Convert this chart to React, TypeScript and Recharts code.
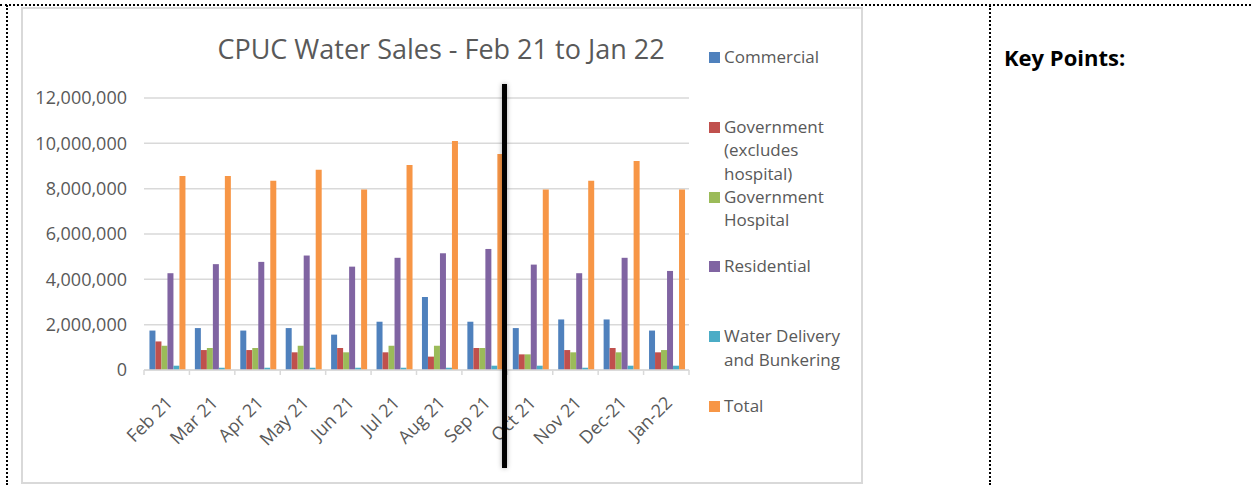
import React from "react";
import { Bar, BarChart, CartesianGrid, XAxis, YAxis } from "recharts";

const months = [
  "Feb 21", "Mar 21", "Apr 21", "May 21", "Jun 21", "Jul 21",
  "Aug 21", "Sep 21", "Oct 21", "Nov 21", "Dec-21", "Jan-22",
];

const commercial = [1740000, 1850000, 1740000, 1850000, 1560000, 2130000, 3220000, 2130000, 1850000, 2230000, 2230000, 1740000];
const government = [1260000, 880000, 880000, 780000, 970000, 780000, 590000, 970000, 690000, 880000, 970000, 780000];
const hospital = [1070000, 970000, 970000, 1070000, 780000, 1070000, 1070000, 970000, 690000, 780000, 780000, 880000];
const residential = [4270000, 4670000, 4770000, 5050000, 4560000, 4950000, 5150000, 5340000, 4650000, 4270000, 4950000, 4370000];
const waterDelivery = [190000, 100000, 100000, 100000, 100000, 100000, 100000, 190000, 190000, 100000, 190000, 190000];
const total = [8560000, 8560000, 8350000, 8840000, 7960000, 9040000, 10100000, 9530000, 7960000, 8350000, 9220000, 7960000];

const yTicks = [0, 2000000, 4000000, 6000000, 8000000, 10000000, 12000000];

const series = [
  { key: "commercial", color: "#4f81bd", lines: ["Commercial"] },
  { key: "government", color: "#c0504d", lines: ["Government", "(excludes", "hospital)"] },
  { key: "hospital", color: "#9bbb59", lines: ["Government", "Hospital"] },
  { key: "residential", color: "#8064a2", lines: ["Residential"] },
  { key: "waterDelivery", color: "#4bacc6", lines: ["Water Delivery", "and Bunkering"] },
  { key: "total", color: "#f79646", lines: ["Total"] },
];

const rows = months.map((month, i) => ({
  month,
  commercial: commercial[i],
  government: government[i],
  hospital: hospital[i],
  residential: residential[i],
  waterDelivery: waterDelivery[i],
  total: total[i],
}));

const FONT = "'Open Sans', 'Noto Sans', sans-serif";
const GREY_TEXT = "#595959";
const GRID = "#d9d9d9";

function MonthTick(props: any) {
  const { x, y, payload, index } = props;
  const half = payload.offset ?? 0;
  const ax = x + 7;
  const ay = y + 34;
  return (
    <g>
      <line x1={x - half} x2={x - half} y1={y} y2={y + 5} stroke={GRID} strokeWidth={1.5} />
      {index === months.length - 1 && (
        <line x1={x + half} x2={x + half} y1={y} y2={y + 5} stroke={GRID} strokeWidth={1.5} />
      )}
      <text
        x={ax}
        y={ay}
        textAnchor="end"
        transform={`rotate(-45 ${ax} ${ay})`}
        fontSize={18}
        fontFamily={FONT}
        fill={GREY_TEXT}
      >
        {payload.value}
      </text>
    </g>
  );
}

export default function App() {
  return (
    <div
      style={{
        position: "absolute",
        left: 0,
        top: 0,
        width: 1251,
        height: 485,
        background: "#fff",
        fontFamily: FONT,
        overflow: "hidden",
      }}
    >
      {/* table borders */}
      <div style={{ position: "absolute", left: 0, top: 4, width: 1251, borderTop: "2px dotted #000" }} />
      <div style={{ position: "absolute", left: 6, top: 5, height: 480, borderLeft: "2px dotted #000" }} />
      <div style={{ position: "absolute", left: 989, top: 5, height: 480, borderLeft: "2px dotted #000" }} />

      {/* chart frame */}
      <div
        style={{
          position: "absolute",
          left: 21,
          top: 7,
          width: 838,
          height: 473,
          border: `2px solid ${GRID}`,
        }}
      />

      <div
        style={{
          position: "absolute",
          left: 0,
          top: 32,
          width: 882,
          textAlign: "center",
          fontSize: 27,
          color: GREY_TEXT,
          lineHeight: "34px",
        }}
      >
        CPUC Water Sales - Feb 21 to Jan 22
      </div>

      <div style={{ position: "absolute", left: 0, top: 0 }}>
        <BarChart
          width={860}
          height={485}
          data={rows}
          margin={{ top: 98, right: 171, left: 30, bottom: 15 }}
          barCategoryGap="12%"
          barGap={0}
        >
          <CartesianGrid vertical={false} stroke={GRID} strokeWidth={1.5} />
          <XAxis
            dataKey="month"
            interval={0}
            height={100}
            tickLine={false}
            tickSize={0}
            tickMargin={0}
            axisLine={{ stroke: GRID, strokeWidth: 1.5 }}
            tick={<MonthTick />}
          />
          <YAxis
            width={114}
            domain={[0, 12000000]}
            ticks={yTicks}
            axisLine={false}
            tickLine={false}
            tickSize={0}
            tickMargin={17}
            tick={{ fontSize: 18, fill: GREY_TEXT, fontFamily: FONT }}
            tickFormatter={(v) => Number(v).toLocaleString("en-US")}
          />
          {series.map((s) => (
            <Bar key={s.key} dataKey={s.key} fill={s.color} isAnimationActive={false} />
          ))}
        </BarChart>
      </div>

      {/* legend */}
      {series.map((s, i) => (
        <div
          key={s.key}
          style={{
            position: "absolute",
            left: 709,
            top: 57 + i * 69.8 - 12,
            display: "flex",
            alignItems: "flex-start",
          }}
        >
          <div style={{ width: 11, height: 11, background: s.color, marginTop: 7, marginRight: 4 }} />
          <div style={{ fontSize: 17, lineHeight: "23.5px", color: GREY_TEXT, whiteSpace: "nowrap" }}>
            {s.lines.map((l) => (
              <div key={l}>{l}</div>
            ))}
          </div>
        </div>
      ))}

      {/* divider drawn over the chart */}
      <div
        style={{
          position: "absolute",
          left: 502,
          top: 84,
          width: 5,
          height: 384,
          background: "#000",
          boxShadow: "0 0 5px rgba(0,0,0,0.35)",
        }}
      />

      <div
        style={{
          position: "absolute",
          left: 1004,
          top: 42,
          fontSize: 22,
          fontWeight: 700,
          color: "#000",
          lineHeight: "30px",
        }}
      >
        Key Points:
      </div>
    </div>
  );
}
